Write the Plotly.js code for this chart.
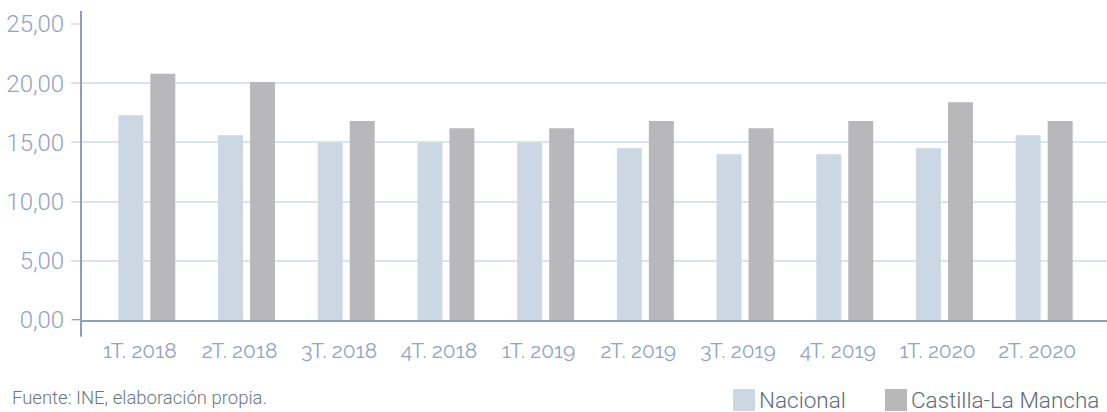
<!DOCTYPE html>
<html>
<head>
<meta charset="utf-8">
<script src="https://cdn.plot.ly/plotly-3.0.1.min.js"></script>
<style>
html,body{margin:0;padding:0;background:#fff;}
#chart{width:1107px;height:412px;}
</style>
</head>
<body>
<div id="chart"></div>
<script>
const categories = ["1T. 2018","2T. 2018","3T. 2018","4T. 2018","1T. 2019","2T. 2019","3T. 2019","4T. 2019","1T. 2020","2T. 2020"];
const seriesNames = ["Nacional","Castilla-La Mancha"];
const nacional = [17.3,15.6,15.0,15.0,15.0,14.5,14.0,14.0,14.5,15.6];
const clm = [20.8,20.1,16.8,16.2,16.2,16.8,16.2,16.8,18.4,16.8];
const yTicks = [0,5,10,15,20,25];
const source = "Fuente: INE, elaboración propia.";

const colors = ["#cbd7e2","#b8b8ba"];
const axisCol = "#8f9dbd";
const gridCol = "#dde3ee";
const tickCol = "#94a2c3";

const traces = [
  {type:"bar", name:seriesNames[0], x:categories, y:nacional, marker:{color:colors[0]}, showlegend:false, hoverinfo:"y"},
  {type:"bar", name:seriesNames[1], x:categories, y:clm, marker:{color:colors[1]}, showlegend:false, hoverinfo:"y"}
];

// manual legend (large square swatches)
const legendX = [733, 885];
const shapes = [
  {type:"line", xref:"paper", yref:"paper", x0:0, x1:0, y0:-0.057, y1:1.044, line:{color:axisCol, width:2}},
  {type:"line", xref:"paper", yref:"y", x0:-0.0085, x1:0, y0:0, y1:0, line:{color:axisCol, width:2}}
];
const annotations = [
  {xref:"paper", yref:"paper", x:-71/1026, y:-92/296, xanchor:"left", yanchor:"bottom", yshift:1, text:source, showarrow:false,
   font:{family:"Roboto", size:18.5, color:"#6b7683", weight:300}}
];
seriesNames.forEach((n,i)=>{
  const px = legendX[i];
  shapes.push({type:"rect", xref:"paper", yref:"paper",
    x0:(px-81)/1026, x1:(px+22-81)/1026, y0:(320-411)/296, y1:(320-389)/296,
    fillcolor:colors[i], line:{width:0}});
  annotations.push({xref:"paper", yref:"paper", x:(px+24-81)/1026, y:(320-400)/296, xanchor:"left", yanchor:"middle",
    text:n, showarrow:false, font:{family:"Roboto", size:22.5, color:"#5d6b7a", weight:300}});
});

const layout = {
  width:1107, height:412,
  margin:{l:81, r:0, t:24, b:92},
  paper_bgcolor:"#fff", plot_bgcolor:"#fff",
  separators:",.",
  bargap:0.358, bargroupgap:0.22, barmode:"group",
  showlegend:false,
  xaxis:{type:"category", range:[-0.66,9.63], showgrid:false, zeroline:false,
    showline:true, linecolor:axisCol, linewidth:2, ticks:"", ticklabelstandoff:11, ticklabelshift:-7,
    tickfont:{family:"Raleway, Lato, 'Open Sans'", size:21, color:tickCol}},
  yaxis:{range:[0,25], tickvals:yTicks, tickformat:".2f", showgrid:true, gridcolor:gridCol, gridwidth:2,
    zeroline:false, showline:false, ticks:"outside", ticklen:9, tickwidth:2, tickcolor:gridCol,
    ticklabelstandoff:2,
    tickfont:{family:"Roboto", size:24, color:tickCol, weight:300}},
  shapes:shapes,
  annotations:annotations
};
Plotly.newPlot("chart", traces, layout, {displayModeBar:false, staticPlot:true});
</script>
</body>
</html>
